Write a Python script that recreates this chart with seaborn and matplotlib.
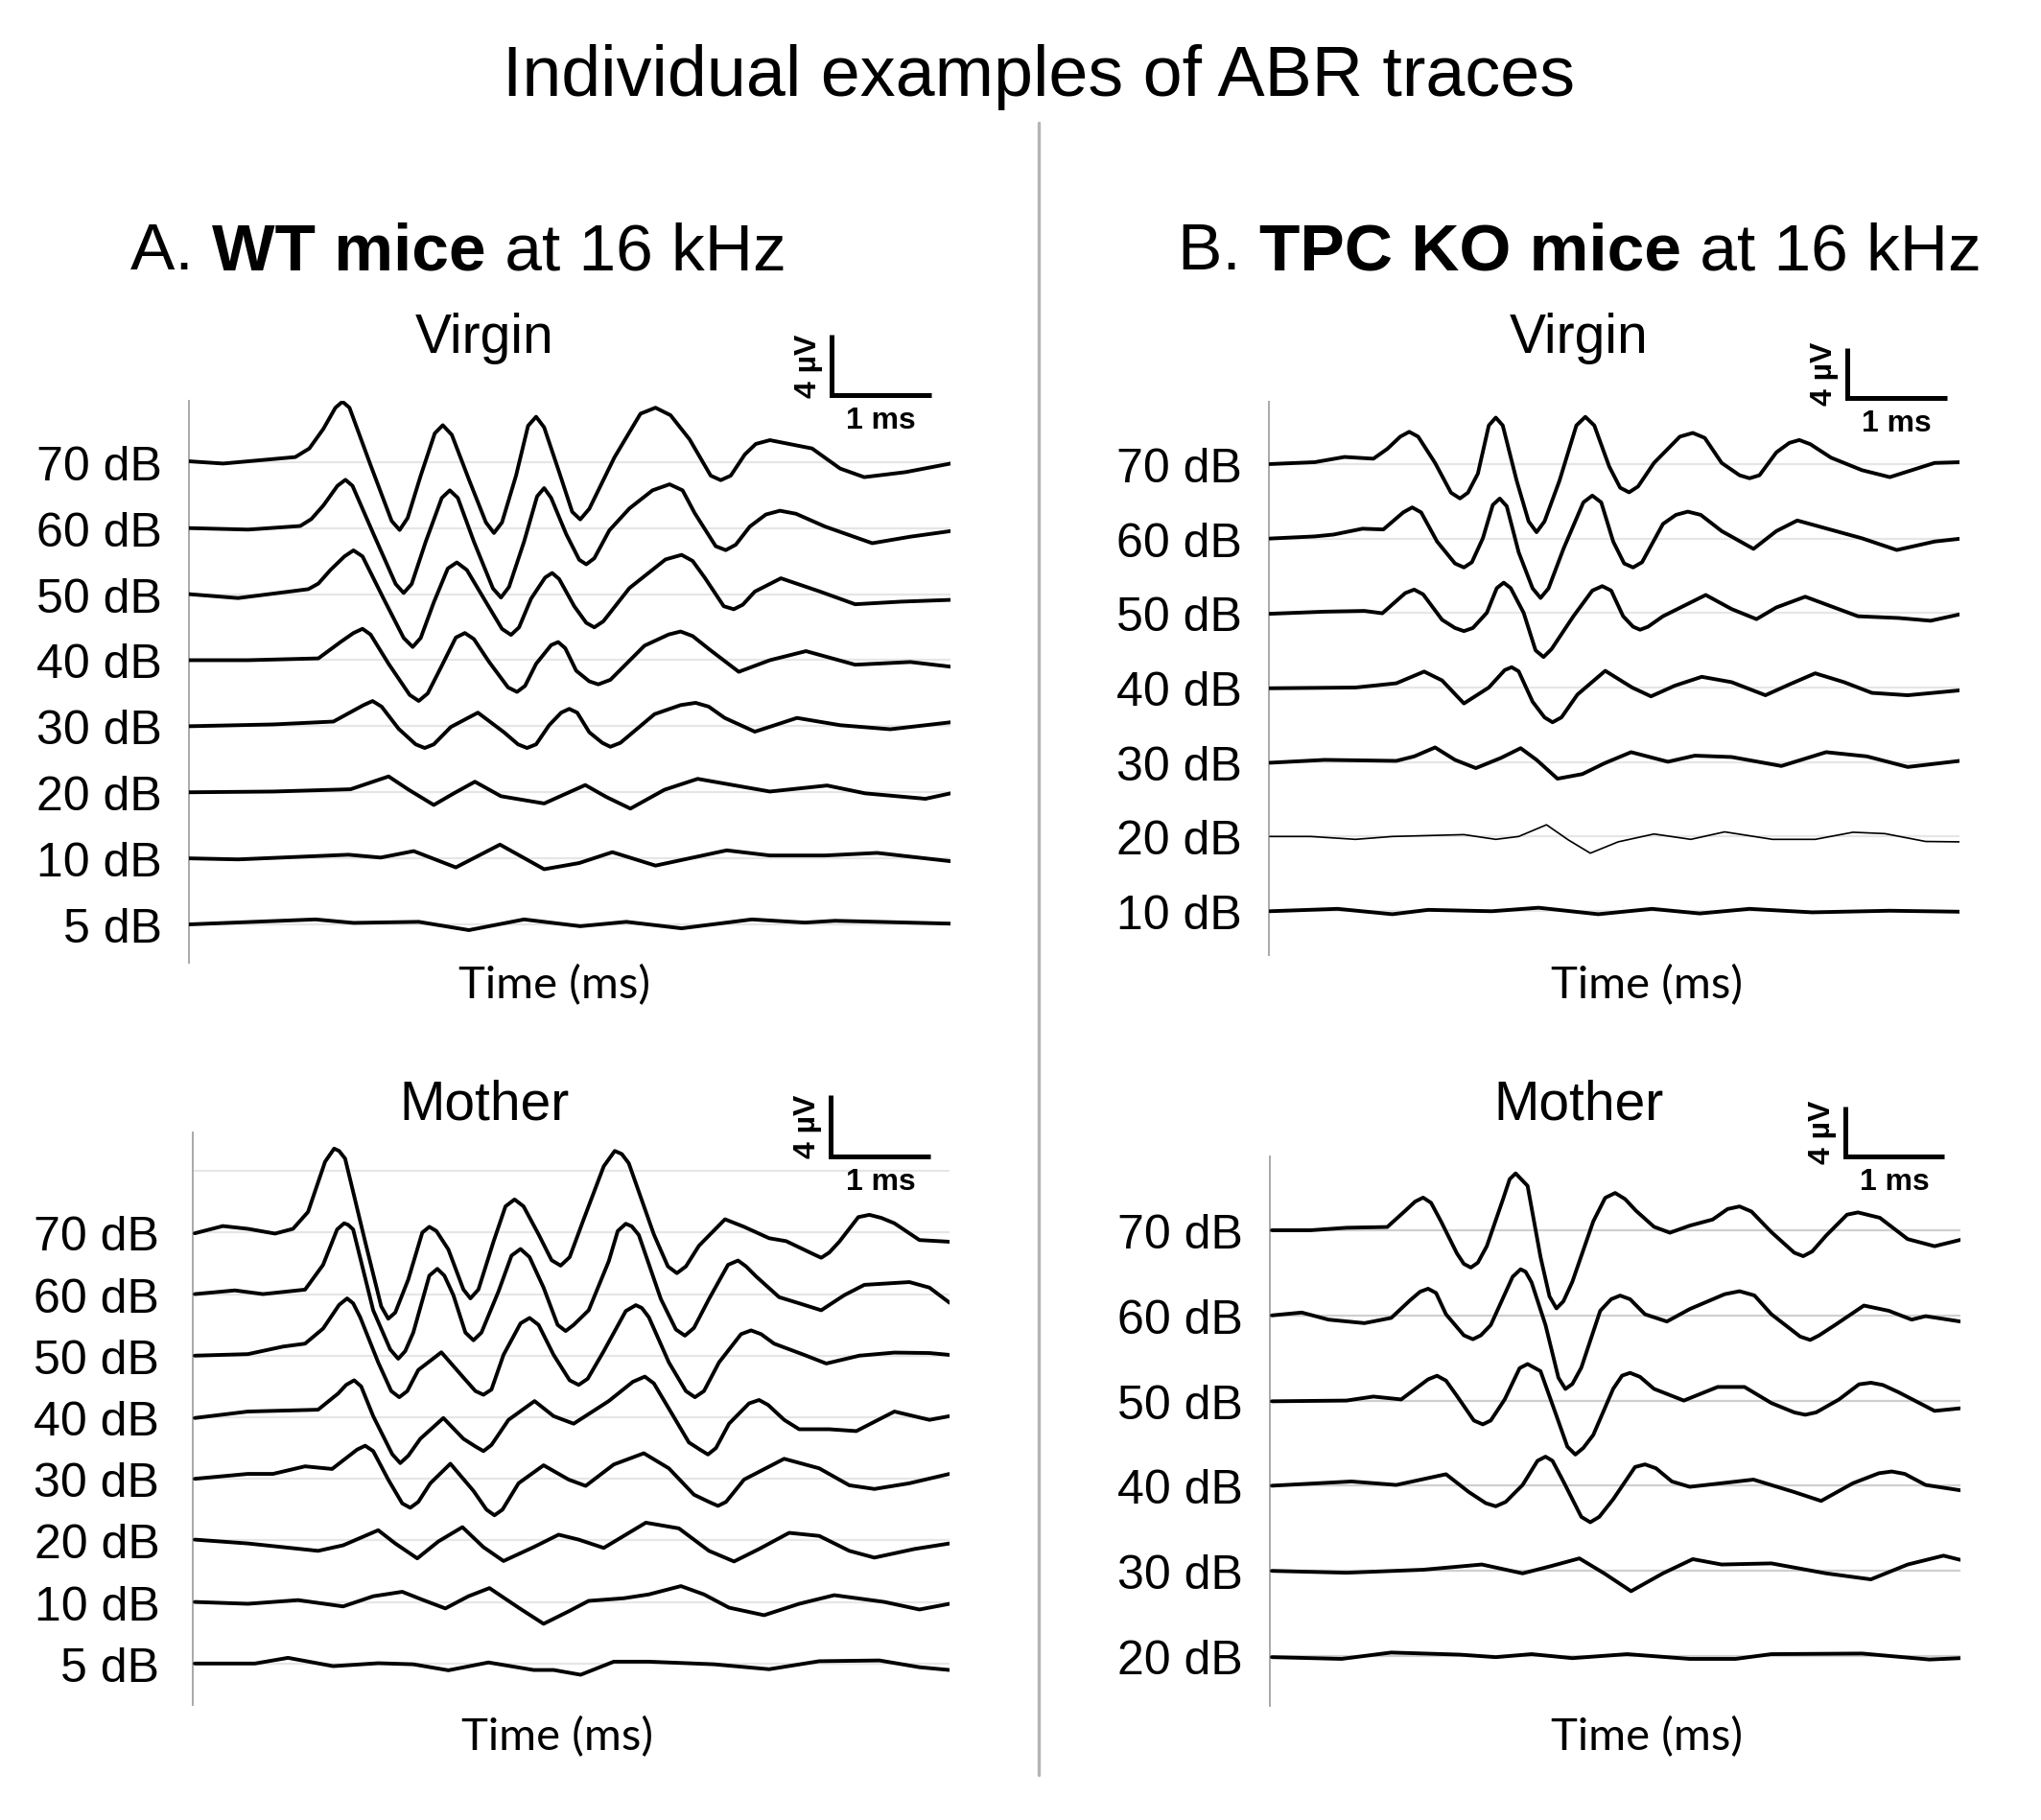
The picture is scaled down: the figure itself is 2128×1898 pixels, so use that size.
import numpy as np
import matplotlib
matplotlib.use("Agg")
import matplotlib.pyplot as plt
import matplotlib.transforms as mtransforms
import seaborn as sns

# ---------------- DATA (time in ms, amplitude in µV) ----------------
# Panel A, WT, Virgin
A_VIR_LEVELS = [70, 60, 50, 40, 30, 20, 10, 5]
A_VIR_70_T = [0, 0.34, 1.06, 1.2, 1.34, 1.46, 1.53, 1.6, 1.81, 2.02, 2.1, 2.18, 2.31, 2.45, 2.53, 2.62, 2.79, 2.96, 3.04, 3.12, 3.26, 3.38, 3.46, 3.54, 3.69, 3.82, 3.9, 3.99, 4.24, 4.5, 4.65, 4.8, 4.99, 5.2, 5.3, 5.4, 5.54, 5.65, 5.79, 6.21, 6.49, 6.73, 7.14, 7.59]
A_VIR_70_UV = [0.05, -0.1, 0.33, 0.9, 2.2, 3.6, 4.0, 3.6, -0.2, -3.9, -4.5, -3.7, -0.9, 1.9, 2.44, 1.8, -1.15, -4.0, -4.7, -4.0, -0.9, 2.4, 3.0, 2.3, -0.67, -3.3, -3.8, -3.1, 0.3, 3.2, 3.6, 3.1, 1.5, -0.9, -1.2, -0.9, 0.5, 1.2, 1.45, 0.9, -0.43, -1.0, -0.67, -0.1]
A_VIR_60_T = [0, 0.59, 1.11, 1.22, 1.34, 1.48, 1.56, 1.63, 1.84, 2.06, 2.14, 2.22, 2.36, 2.52, 2.6, 2.68, 2.84, 3.03, 3.11, 3.19, 3.34, 3.47, 3.54, 3.61, 3.76, 3.89, 3.96, 4.04, 4.19, 4.39, 4.62, 4.79, 4.92, 5.04, 5.25, 5.35, 5.45, 5.59, 5.75, 5.89, 6.05, 6.34, 6.81, 7.19, 7.59]
A_VIR_60_UV = [0, -0.1, 0.14, 0.6, 1.5, 2.8, 3.2, 2.8, -0.4, -3.7, -4.3, -3.7, -0.9, 2.0, 2.5, 2.0, -0.9, -4.0, -4.6, -3.9, -0.9, 2.1, 2.65, 2.0, -0.4, -2.1, -2.4, -2.0, -0.15, 1.3, 2.5, 2.9, 2.5, 1.0, -1.2, -1.46, -1.1, 0.1, 0.9, 1.15, 0.95, 0.1, -1.0, -0.57, -0.2]
A_VIR_50_T = [0, 0.49, 1.19, 1.29, 1.41, 1.55, 1.64, 1.73, 1.94, 2.14, 2.23, 2.31, 2.44, 2.58, 2.67, 2.77, 2.94, 3.12, 3.21, 3.29, 3.41, 3.55, 3.62, 3.69, 3.84, 3.96, 4.04, 4.13, 4.39, 4.75, 4.91, 5.02, 5.14, 5.33, 5.43, 5.52, 5.64, 5.9, 6.29, 6.64, 7.09, 7.59]
A_VIR_50_UV = [0, -0.26, 0.33, 0.7, 1.6, 2.5, 2.9, 2.5, -0.3, -2.9, -3.5, -2.9, -0.55, 1.7, 2.1, 1.6, -0.3, -2.3, -2.7, -2.2, -0.3, 1.1, 1.4, 1.0, -0.8, -1.9, -2.2, -1.8, 0.4, 2.3, 2.6, 2.2, 1.1, -0.8, -1.0, -0.7, 0.17, 1.05, 0.17, -0.67, -0.5, -0.38]
A_VIR_40_T = [0, 0.59, 1.29, 1.51, 1.64, 1.73, 1.81, 1.99, 2.2, 2.29, 2.38, 2.51, 2.66, 2.75, 2.84, 2.99, 3.18, 3.27, 3.35, 3.46, 3.61, 3.68, 3.75, 3.86, 3.99, 4.08, 4.2, 4.54, 4.78, 4.9, 5.02, 5.19, 5.48, 5.79, 6.15, 6.64, 7.19, 7.59]
A_VIR_40_UV = [0, 0, 0.12, 1.2, 1.8, 2.08, 1.7, -0.24, -2.3, -2.7, -2.2, -0.5, 1.5, 1.8, 1.4, -0.1, -1.8, -2.1, -1.7, -0.24, 1.0, 1.2, 0.8, -0.7, -1.4, -1.6, -1.3, 0.96, 1.7, 1.9, 1.6, 0.7, -0.77, 0, 0.6, -0.3, -0.12, -0.43]
A_VIR_30_T = [0, 0.84, 1.44, 1.74, 1.83, 1.92, 2.09, 2.26, 2.35, 2.44, 2.61, 2.88, 3.14, 3.28, 3.37, 3.46, 3.59, 3.71, 3.79, 3.87, 3.99, 4.12, 4.2, 4.3, 4.64, 4.9, 5.05, 5.18, 5.34, 5.64, 6.06, 6.49, 6.99, 7.59]
A_VIR_30_UV = [0, 0.12, 0.31, 1.4, 1.67, 1.3, -0.17, -1.2, -1.44, -1.2, -0.05, 0.9, -0.4, -1.2, -1.44, -1.2, 0.07, 0.9, 1.15, 0.9, -0.4, -1.1, -1.36, -1.1, 0.8, 1.4, 1.55, 1.3, 0.55, -0.36, 0.55, 0.07, -0.2, 0.26]
A_VIR_20_T = [0, 0.84, 1.61, 1.99, 2.19, 2.44, 2.64, 2.85, 3.11, 3.54, 3.95, 4.16, 4.4, 4.74, 5.07, 5.79, 6.36, 6.74, 7.34, 7.59]
A_VIR_20_UV = [0, 0.05, 0.2, 1.05, 0.17, -0.84, -0.07, 0.7, -0.26, -0.74, 0.48, -0.31, -1.08, 0.17, 0.89, 0.05, 0.45, -0.07, -0.43, -0.07]
A_VIR_10_T = [0, 0.49, 1.59, 1.91, 2.24, 2.66, 3.1, 3.54, 3.89, 4.22, 4.65, 5.36, 5.79, 6.34, 6.86, 7.59]
A_VIR_10_UV = [0, -0.07, 0.24, 0.05, 0.48, -0.6, 0.91, -0.72, -0.31, 0.41, -0.48, 0.53, 0.19, 0.19, 0.36, -0.19]
A_VIR_5_T = [0, 1.26, 1.64, 2.29, 2.79, 3.34, 3.9, 4.36, 4.91, 5.61, 6.14, 6.44, 7.59]
A_VIR_5_UV = [0, 0.33, 0.1, 0.17, -0.38, 0.33, -0.12, 0.17, -0.26, 0.33, 0.12, 0.24, 0.05]

# Panel A, WT, Mother
A_MOT_LEVELS = [70, 60, 50, 40, 30, 20, 10, 5]
A_MOT_70_T = [0, 0.28, 0.53, 0.8, 0.98, 1.13, 1.3, 1.39, 1.44, 1.5, 1.7, 1.86, 1.93, 2.0, 2.13, 2.27, 2.34, 2.41, 2.53, 2.68, 2.75, 2.83, 2.98, 3.1, 3.19, 3.28, 3.43, 3.56, 3.65, 3.74, 3.88, 4.08, 4.19, 4.26, 4.33, 4.58, 4.72, 4.81, 4.9, 5.03, 5.29, 5.48, 5.73, 5.9, 6.17, 6.25, 6.33, 6.43, 6.62, 6.73, 6.85, 6.98, 7.23, 7.53]
A_MOT_70_UV = [-0.05, 0.42, 0.24, -0.07, 0.24, 1.34, 4.6, 5.45, 5.3, 4.8, -0.6, -4.8, -5.6, -5.2, -3.05, 0.0, 0.37, 0.1, -1.1, -3.7, -4.28, -3.7, -0.6, 1.7, 2.15, 1.7, -0.12, -1.8, -2.15, -1.6, 0.86, 4.3, 5.3, 5.1, 4.5, -0.12, -2.2, -2.64, -2.2, -0.86, 0.86, 0.37, -0.37, -0.56, -1.4, -1.64, -1.3, -0.6, 1.0, 1.15, 0.95, 0.6, -0.49, -0.6]
A_MOT_60_T = [0, 0.4, 0.68, 1.1, 1.28, 1.42, 1.49, 1.53, 1.58, 1.78, 1.95, 2.03, 2.1, 2.18, 2.34, 2.42, 2.49, 2.58, 2.7, 2.78, 2.86, 3.03, 3.16, 3.25, 3.34, 3.48, 3.62, 3.7, 3.78, 3.93, 4.13, 4.22, 4.3, 4.36, 4.43, 4.65, 4.8, 4.89, 4.98, 5.13, 5.32, 5.42, 5.5, 5.6, 5.83, 6.03, 6.25, 6.48, 6.68, 7.13, 7.33, 7.53]
A_MOT_60_UV = [0, 0.24, 0, 0.29, 1.9, 4.2, 4.6, 4.5, 4.2, -1.05, -3.6, -4.2, -3.7, -2.5, 1.2, 1.64, 1.2, -0.07, -2.5, -3.0, -2.5, 0.17, 2.5, 2.93, 2.4, 0.42, -2.0, -2.4, -2.0, -1.05, 2.13, 4.1, 4.57, 4.4, 3.84, -0.32, -2.3, -2.7, -2.2, -0.32, 1.9, 2.18, 1.8, 1.15, -0.2, -0.6, -1.05, -0.07, 0.6, 0.78, 0.42, -0.56]
A_MOT_50_T = [0, 0.53, 0.88, 1.1, 1.28, 1.44, 1.52, 1.58, 1.65, 1.83, 1.96, 2.04, 2.12, 2.23, 2.46, 2.68, 2.8, 2.88, 2.96, 3.08, 3.25, 3.34, 3.43, 3.58, 3.74, 3.83, 3.92, 4.08, 4.3, 4.4, 4.46, 4.53, 4.73, 4.9, 4.99, 5.08, 5.23, 5.45, 5.55, 5.65, 5.78, 6.08, 6.3, 6.63, 6.98, 7.33, 7.53]
A_MOT_50_UV = [0, 0.1, 0.59, 0.78, 1.76, 3.3, 3.72, 3.4, 2.5, -0.44, -2.3, -2.7, -2.3, -0.93, 0.22, -1.42, -2.3, -2.54, -2.2, 0.05, 2.1, 2.45, 2.0, 0.05, -1.6, -1.9, -1.5, 0.29, 2.9, 3.28, 3.1, 2.5, -0.44, -2.3, -2.7, -2.3, -0.44, 1.4, 1.64, 1.4, 0.78, 0.05, -0.51, 0, 0.2, 0.17, 0.05]
A_MOT_40_T = [0, 0.53, 1.23, 1.43, 1.51, 1.59, 1.66, 1.78, 1.97, 2.05, 2.13, 2.25, 2.48, 2.68, 2.8, 2.88, 2.96, 3.13, 3.39, 3.58, 3.78, 4.13, 4.37, 4.49, 4.58, 4.73, 4.93, 5.04, 5.12, 5.2, 5.33, 5.53, 5.63, 5.72, 5.88, 6.03, 6.33, 6.6, 6.98, 7.33, 7.53]
A_MOT_40_UV = [-0.05, 0.37, 0.49, 1.54, 2.1, 2.4, 2.0, 0.07, -2.4, -2.98, -2.5, -1.4, -0.05, -1.4, -1.9, -2.2, -1.8, -0.17, 1.05, 0.07, -0.42, 1.05, 2.3, 2.64, 2.2, 0.56, -1.64, -2.1, -2.42, -2.0, -0.42, 0.9, 1.12, 0.8, -0.17, -0.78, -0.78, -0.9, 0.37, -0.17, 0.07]
A_MOT_30_T = [0, 0.53, 0.78, 1.1, 1.37, 1.62, 1.7, 1.78, 1.93, 2.07, 2.15, 2.23, 2.35, 2.55, 2.78, 2.91, 2.99, 3.07, 3.23, 3.48, 3.73, 3.9, 4.18, 4.48, 4.73, 4.98, 5.13, 5.22, 5.3, 5.48, 5.88, 6.23, 6.53, 6.78, 7.13, 7.53]
A_MOT_30_UV = [0, 0.32, 0.32, 0.81, 0.64, 1.9, 2.15, 1.8, -0.05, -1.6, -1.88, -1.5, -0.29, 0.98, -0.78, -2.0, -2.37, -2.0, -0.29, 0.88, -0.05, -0.46, 0.93, 1.66, 0.68, -1.03, -1.5, -1.76, -1.5, -0.05, 1.3, 0.68, -0.42, -0.66, -0.29, 0.32]
A_MOT_20_T = [0, 0.53, 1.23, 1.48, 1.83, 2.0, 2.22, 2.43, 2.67, 2.88, 3.08, 3.38, 3.63, 3.83, 4.08, 4.28, 4.5, 4.83, 5.13, 5.38, 5.63, 5.93, 6.23, 6.53, 6.78, 7.18, 7.53]
A_MOT_20_UV = [0.05, -0.2, -0.68, -0.32, 0.66, -0.2, -1.17, -0.07, 0.86, -0.44, -1.34, -0.44, 0.37, 0.05, -0.49, 0.29, 1.15, 0.78, -0.68, -1.37, -0.56, 0.49, 0.29, -0.68, -1.12, -0.56, -0.2]
A_MOT_10_T = [0, 0.53, 1.03, 1.48, 1.78, 2.07, 2.28, 2.5, 2.73, 2.94, 3.23, 3.48, 3.73, 3.93, 4.28, 4.53, 4.85, 5.08, 5.33, 5.68, 6.03, 6.38, 6.88, 7.23, 7.53]
A_MOT_10_UV = [0, -0.12, 0.12, -0.29, 0.37, 0.66, 0.12, -0.42, 0.37, 0.9, -0.37, -1.42, -0.61, 0.07, 0.24, 0.49, 1.03, 0.49, -0.37, -0.86, -0.12, 0.44, 0, -0.49, -0.12]
A_MOT_5_T = [0, 0.6, 0.93, 1.38, 1.83, 2.18, 2.53, 2.93, 3.38, 3.58, 3.85, 4.18, 4.53, 5.18, 5.73, 6.23, 6.83, 7.23, 7.53]
A_MOT_5_UV = [0, 0, 0.37, -0.17, 0.02, -0.05, -0.44, 0.07, -0.42, -0.42, -0.73, 0.12, 0.12, -0.05, -0.37, 0.15, 0.2, -0.24, -0.42]

# Panel B, TPC KO, Virgin
B_VIR_LEVELS = [70, 60, 50, 40, 30, 20, 10]
B_VIR_70_T = [0, 0.45, 0.75, 1.04, 1.18, 1.31, 1.4, 1.49, 1.66, 1.82, 1.91, 1.99, 2.09, 2.2, 2.27, 2.34, 2.48, 2.6, 2.68, 2.76, 2.91, 3.08, 3.17, 3.26, 3.41, 3.52, 3.61, 3.7, 3.86, 4.12, 4.25, 4.37, 4.54, 4.72, 4.82, 4.92, 5.09, 5.22, 5.32, 5.43, 5.64, 5.95, 6.23, 6.68, 6.93]
B_VIR_70_UV = [0, 0.15, 0.57, 0.43, 1.22, 2.2, 2.59, 2.2, 0.09, -2.3, -2.76, -2.3, -0.77, 3.1, 3.73, 3.1, -1.34, -4.6, -5.47, -4.6, -1.34, 3.1, 3.79, 3.1, -0.2, -1.9, -2.27, -1.8, 0.09, 2.2, 2.5, 2.1, 0.09, -0.9, -1.14, -0.9, 0.94, 1.7, 1.93, 1.6, 0.51, -0.49, -1.05, 0.09, 0.15]
B_VIR_60_T = [0, 0.45, 0.64, 0.93, 1.14, 1.34, 1.43, 1.52, 1.68, 1.86, 1.95, 2.03, 2.14, 2.24, 2.31, 2.38, 2.5, 2.64, 2.72, 2.8, 2.95, 3.15, 3.24, 3.33, 3.45, 3.56, 3.65, 3.74, 3.95, 4.08, 4.2, 4.33, 4.54, 4.86, 5.09, 5.3, 5.95, 6.3, 6.68, 6.93]
B_VIR_60_UV = [0, 0.17, 0.32, 0.79, 0.73, 2.1, 2.5, 2.1, -0.24, -2.0, -2.32, -1.9, 0.02, 2.7, 3.21, 2.6, -1.1, -4.0, -4.77, -4.0, -0.83, 2.9, 3.45, 2.9, -0.24, -2.0, -2.32, -1.9, 1.17, 1.9, 2.16, 1.9, 0.6, -0.83, 0.6, 1.45, 0.02, -0.92, -0.24, -0.02]
B_VIR_50_T = [0, 0.55, 0.95, 1.13, 1.36, 1.45, 1.54, 1.73, 1.86, 1.95, 2.04, 2.18, 2.28, 2.35, 2.42, 2.55, 2.67, 2.75, 2.83, 3.05, 3.24, 3.34, 3.43, 3.55, 3.65, 3.72, 3.8, 3.95, 4.38, 4.64, 4.89, 5.09, 5.38, 5.91, 6.32, 6.64, 6.93]
B_VIR_50_UV = [-0.06, 0.11, 0.17, -0.02, 1.6, 1.88, 1.5, -0.54, -1.2, -1.45, -1.2, 0.02, 2.0, 2.44, 2.0, 0.02, -3.0, -3.53, -2.9, -0.26, 1.8, 2.16, 1.8, -0.26, -1.1, -1.34, -1.1, -0.26, 1.45, 0.32, -0.49, 0.45, 1.31, -0.26, -0.4, -0.62, -0.11]
B_VIR_40_T = [0, 0.86, 1.27, 1.55, 1.73, 1.95, 2.2, 2.36, 2.43, 2.5, 2.64, 2.76, 2.84, 2.93, 3.09, 3.37, 3.64, 3.83, 4.07, 4.34, 4.64, 4.98, 5.23, 5.48, 5.77, 6.05, 6.41, 6.93]
B_VIR_40_UV = [-0.06, 0, 0.34, 1.28, 0.57, -1.28, 0, 1.4, 1.63, 1.3, -1.14, -2.4, -2.79, -2.4, -0.57, 1.34, 0, -0.71, 0.15, 0.86, 0.43, -0.62, 0.28, 1.14, 0.43, -0.43, -0.62, -0.23]
B_VIR_30_T = [0, 0.55, 1.27, 1.45, 1.66, 1.86, 2.07, 2.32, 2.52, 2.68, 2.89, 3.14, 3.36, 3.63, 4.0, 4.27, 4.64, 5.14, 5.59, 6.0, 6.41, 6.93]
B_VIR_30_UV = [-0.06, 0.17, 0.09, 0.45, 1.17, 0.17, -0.49, 0.32, 1.11, 0.17, -1.34, -0.97, -0.11, 0.79, 0.02, 0.51, 0.4, -0.32, 0.79, 0.45, -0.4, 0.09]
B_VIR_20_T = [0, 0.41, 0.86, 1.23, 1.95, 2.27, 2.5, 2.78, 3.0, 3.22, 3.5, 3.86, 4.23, 4.57, 5.05, 5.48, 5.86, 6.18, 6.59, 6.93]
B_VIR_20_UV = [0, 0, -0.23, 0, 0.15, -0.23, 0, 0.94, -0.28, -1.34, -0.43, 0.2, -0.23, 0.37, -0.23, -0.23, 0.34, 0.23, -0.4, -0.43]
B_VIR_10_T = [0, 0.68, 1.23, 1.59, 2.23, 2.7, 3.3, 3.84, 4.32, 4.82, 5.45, 6.23, 6.93]
B_VIR_10_UV = [-0.02, 0.17, -0.26, 0.09, -0.02, 0.26, -0.26, 0.17, -0.2, 0.17, -0.11, 0.02, -0.06]

# Panel B, TPC KO, Mother
B_MOT_LEVELS = [70, 60, 50, 40, 30, 20]
B_MOT_70_T = [0, 0.39, 0.75, 1.16, 1.34, 1.44, 1.52, 1.6, 1.7, 1.86, 1.93, 2.0, 2.07, 2.16, 2.32, 2.39, 2.45, 2.57, 2.7, 2.79, 2.86, 2.93, 3.02, 3.23, 3.35, 3.45, 3.55, 3.66, 3.84, 4.0, 4.2, 4.43, 4.58, 4.7, 4.82, 5.02, 5.25, 5.34, 5.43, 5.57, 5.78, 5.89, 6.11, 6.39, 6.66, 6.92]
B_MOT_70_UV = [0, 0, 0.2, 0.26, 1.56, 2.3, 2.62, 2.2, 0.71, -1.86, -2.7, -2.99, -2.6, -1.28, 2.42, 4.1, 4.56, 3.56, -2.14, -5.3, -6.27, -5.7, -4.13, 0.71, 2.6, 2.99, 2.5, 1.56, 0.28, -0.2, 0.37, 0.86, 1.7, 1.91, 1.5, -0.15, -1.8, -2.08, -1.7, -0.43, 1.25, 1.43, 1.0, -0.71, -1.28, -0.77]
B_MOT_60_T = [0, 0.3, 0.57, 0.93, 1.2, 1.39, 1.49, 1.57, 1.65, 1.75, 1.93, 2.02, 2.1, 2.2, 2.42, 2.5, 2.55, 2.61, 2.75, 2.88, 2.95, 3.02, 3.11, 3.3, 3.41, 3.5, 3.6, 3.75, 3.97, 4.2, 4.55, 4.7, 4.85, 5.02, 5.31, 5.41, 5.5, 5.66, 5.95, 6.2, 6.43, 6.57, 6.92]
B_MOT_60_UV = [0, 0.23, -0.34, -0.62, -0.2, 1.22, 1.9, 2.14, 1.8, 0.09, -1.6, -1.91, -1.6, -0.77, 3.1, 3.7, 3.5, 2.65, -0.77, -5.0, -5.9, -5.5, -4.19, 0.37, 1.3, 1.59, 1.3, 0.09, -0.49, 0.51, 1.7, 1.94, 1.6, 0.09, -1.7, -1.97, -1.6, -0.77, 0.79, 0.37, -0.34, -0.06, -0.49]
B_MOT_50_T = [0, 0.75, 1.02, 1.3, 1.57, 1.66, 1.75, 1.86, 2.03, 2.12, 2.2, 2.34, 2.49, 2.57, 2.7, 2.84, 2.97, 3.05, 3.13, 3.23, 3.43, 3.52, 3.6, 3.7, 3.84, 4.14, 4.48, 4.75, 5.02, 5.25, 5.36, 5.47, 5.7, 5.9, 6.02, 6.14, 6.3, 6.66, 6.92]
B_MOT_50_UV = [-0.06, 0, 0.32, 0.09, 1.7, 1.99, 1.6, 0.37, -1.6, -1.91, -1.6, 0.09, 2.6, 2.93, 2.36, -0.77, -3.7, -4.33, -3.8, -2.76, 0.94, 2.0, 2.22, 1.9, 0.94, 0, 1.09, 1.09, -0.2, -0.95, -1.14, -0.95, 0.09, 1.3, 1.43, 1.25, 0.66, -0.83, -0.62]
B_MOT_40_T = [0, 0.8, 1.25, 1.75, 1.98, 2.15, 2.25, 2.35, 2.52, 2.67, 2.75, 2.82, 2.93, 3.11, 3.2, 3.29, 3.43, 3.65, 3.75, 3.86, 4.02, 4.2, 4.84, 5.25, 5.52, 5.84, 6.1, 6.23, 6.36, 6.57, 6.92]
B_MOT_40_UV = [0, 0.34, 0.06, 0.92, -0.51, -1.4, -1.65, -1.3, 0.06, 2.0, 2.33, 2.0, 0.34, -2.5, -2.93, -2.5, -1.09, 1.5, 1.71, 1.4, 0.34, -0.09, 0.49, -0.51, -1.22, 0.2, 1.0, 1.14, 0.95, 0.06, -0.37]
B_MOT_30_T = [0, 0.75, 1.52, 2.11, 2.52, 2.8, 3.09, 3.34, 3.61, 3.93, 4.23, 4.52, 5.02, 5.57, 6.02, 6.39, 6.75, 6.92]
B_MOT_30_UV = [0, -0.15, 0.09, 0.51, -0.2, 0.37, 1.0, -0.2, -1.63, -0.2, 0.94, 0.51, 0.6, -0.2, -0.68, 0.51, 1.22, 0.88]
B_MOT_20_T = [0, 0.7, 1.2, 1.89, 2.25, 2.61, 3.02, 3.57, 4.2, 4.66, 5.02, 5.93, 6.61, 6.92]
B_MOT_20_UV = [-0.09, -0.23, 0.28, 0.11, -0.09, 0.15, -0.17, 0.15, -0.23, -0.23, 0.15, 0.2, -0.28, -0.17]

# ---------------- STYLE / LAYOUT ----------------
sns.set_theme(style="white")
plt.rcParams['font.family'] = ['Liberation Sans', 'DejaVu Sans']
plt.rcParams['text.color'] = 'black'
plt.rcParams['axes.labelcolor'] = 'black'
plt.rcParams['xtick.color'] = 'black'
plt.rcParams['ytick.color'] = 'black'

W, H = 2128, 1899
fig = plt.figure(figsize=(W / 100, H / 100), dpi=100)
fig.patch.set_facecolor('white')


def px_axes(left, top, right, bottom):
    return fig.add_axes([left / W, 1 - bottom / H, (right - left) / W, (bottom - top) / H])


panels = [
    dict(box=(197, 419, 991, 1005), xlim=(0, 7.59), ylim=(-2.54, 34.68), spacing=4.375,
         levels=A_VIR_LEVELS,
         traces=[(A_VIR_70_T, A_VIR_70_UV), (A_VIR_60_T, A_VIR_60_UV), (A_VIR_50_T, A_VIR_50_UV),
                 (A_VIR_40_T, A_VIR_40_UV), (A_VIR_30_T, A_VIR_30_UV), (A_VIR_20_T, A_VIR_20_UV),
                 (A_VIR_10_T, A_VIR_10_UV), (A_VIR_5_T, A_VIR_5_UV)],
         thin=[], extra=0, grid='#e6e6e6', bar=(6.4, 35.04), pad=16),
    dict(box=(201, 1182, 990, 1779), xlim=(-0.02, 7.53), ylim=(-2.69, 34.5), spacing=4.0,
         levels=A_MOT_LEVELS,
         traces=[(A_MOT_70_T, A_MOT_70_UV), (A_MOT_60_T, A_MOT_60_UV), (A_MOT_50_T, A_MOT_50_UV),
                 (A_MOT_40_T, A_MOT_40_UV), (A_MOT_30_T, A_MOT_30_UV), (A_MOT_20_T, A_MOT_20_UV),
                 (A_MOT_10_T, A_MOT_10_UV), (A_MOT_5_T, A_MOT_5_UV)],
         thin=[], extra=1, grid='#e6e6e6', bar=(6.34, 32.94), pad=21),
    dict(box=(1323, 420, 2043, 997), xlim=(-0.01, 6.93), ylim=(-3.54, 40.88), spacing=5.98,
         levels=B_VIR_LEVELS,
         traces=[(B_VIR_70_T, B_VIR_70_UV), (B_VIR_60_T, B_VIR_60_UV), (B_VIR_50_T, B_VIR_50_UV),
                 (B_VIR_40_T, B_VIR_40_UV), (B_VIR_30_T, B_VIR_30_UV), (B_VIR_20_T, B_VIR_20_UV),
                 (B_VIR_10_T, B_VIR_10_UV)],
         thin=[5], extra=0, grid='#e6e6e6', bar=(5.8, 41.2), pad=16),
    dict(box=(1324, 1207, 2044, 1780), xlim=(-0.02, 6.92), ylim=(-4.0, 40.07), spacing=6.83,
         levels=B_MOT_LEVELS,
         traces=[(B_MOT_70_T, B_MOT_70_UV), (B_MOT_60_T, B_MOT_60_UV), (B_MOT_50_T, B_MOT_50_UV),
                 (B_MOT_40_T, B_MOT_40_UV), (B_MOT_30_T, B_MOT_30_UV), (B_MOT_20_T, B_MOT_20_UV)],
         thin=[], extra=0, grid='#cfcfcf', bar=(5.76, 40.07), pad=16),
]

for p in panels:
    ax = px_axes(*p['box'])
    ax.set_facecolor('none')
    n = len(p['levels'])
    offsets = [(n - 1 - i) * p['spacing'] for i in range(n)]
    for i, (t, uv) in enumerate(p['traces']):
        assert len(t) == len(uv), (p['levels'][i], len(t), len(uv))
        lw = 1.2 if i in p['thin'] else 2.8
        sns.lineplot(x=np.array(t), y=np.array(uv) + offsets[i], ax=ax, color='black',
                     linewidth=lw, estimator=None, sort=False, zorder=3)
        ax.lines[-1].set_solid_joinstyle('round')
        ax.lines[-1].set_solid_capstyle('round')
    ticks = list(offsets)
    labels = [f"{lv} dB" for lv in p['levels']]
    if p['extra']:
        ticks = [offsets[0] + p['spacing']] + ticks
        labels = [''] + labels
    ax.set_yticks(ticks)
    ax.set_yticklabels(labels, fontsize=36, color='black')
    ax.set_xticks([])
    ax.set_xlim(*p['xlim'])
    ax.set_ylim(*p['ylim'])
    ax.set_xlabel('')
    ax.set_ylabel('')
    ax.grid(axis='y', color=p['grid'], linewidth=1.6, zorder=0)
    ax.set_axisbelow(True)
    for s in ['top', 'right', 'bottom']:
        ax.spines[s].set_visible(False)
    ax.spines['left'].set_color('#a9a9a9')
    ax.spines['left'].set_linewidth(1.4)
    ax.tick_params(axis='y', length=4, width=1.2, color='#a9a9a9', pad=p['pad'], labelcolor='black')
    # scale bar: 4 µV vertical, 1 ms horizontal
    x0, y0 = p['bar']
    ax.plot([x0, x0, x0 + 1], [y0 + 4, y0, y0], color='black', lw=3.6, clip_on=False,
            solid_joinstyle='miter', solid_capstyle='butt', zorder=4)
    tr_left = mtransforms.offset_copy(ax.transData, fig=fig, x=-24, y=0, units='dots')
    ax.text(x0, y0 + 2, '4 µV', rotation=90, ha='center', va='center', fontsize=23,
            fontweight='bold', transform=tr_left, clip_on=False, color='black')
    tr_down = mtransforms.offset_copy(ax.transData, fig=fig, x=0, y=-26, units='dots')
    ax.text(x0 + 0.5, y0, '1 ms', ha='center', va='center', fontsize=23, fontweight='bold',
            transform=tr_down, clip_on=False, color='black')

# ---------------- overlay for titles ----------------
ov = fig.add_axes([0, 0, 1, 1], zorder=-5)
ov.set_xlim(0, W)
ov.set_ylim(H, 0)
ov.axis('off')

ov.text(1083, 100, 'Individual examples of ABR traces', ha='center', va='baseline', fontsize=53,
        color='black')
ov.plot([1083, 1083], [129, 1852], color='#b5b5b5', lw=2.4)


def mixed(x, y, parts, size=50):
    prev = ov.text(x, y, parts[0][0], ha='left', va='bottom', fontsize=size, fontweight=parts[0][1],
                   color='black')
    for s, w in parts[1:]:
        prev = ov.annotate(s, xy=(1, 0), xycoords=prev, ha='left', va='bottom', fontsize=size,
                           fontweight=w, color='black')


mixed(136, 295, [('A. ', 'normal'), ('WT mice', 'bold'), (' at 16 kHz', 'normal')])
mixed(1228, 295, [('B. ', 'normal'), ('TPC KO mice', 'bold'), (' at 16 kHz', 'normal')])

for cx in (505, 1646):
    ov.text(cx, 368, 'Virgin', ha='center', va='baseline', fontsize=41, color='black')
    ov.text(cx, 1168, 'Mother', ha='center', va='baseline', fontsize=41, color='black')

for cx, by in ((578, 1041), (581, 1825), (1717, 1041), (1717, 1825)):
    ov.text(cx, by, 'Time (ms)', ha='center', va='baseline', fontsize=34,
            family=['Lato', 'DejaVu Sans'], color='black')

fig.savefig('out.png', dpi=100, facecolor='white')
